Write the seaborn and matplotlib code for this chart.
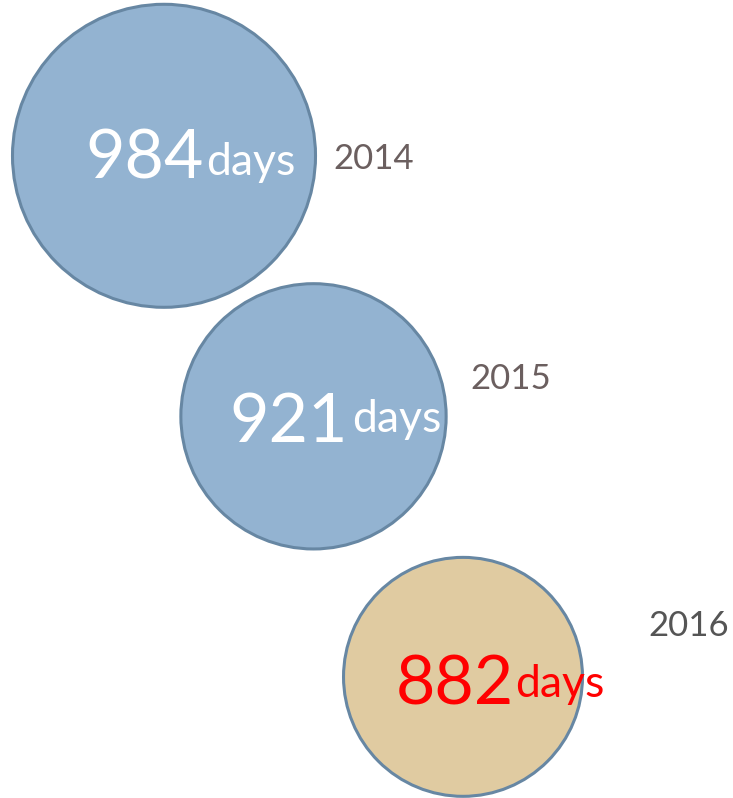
import seaborn as sns
import pandas as pd
import matplotlib.pyplot as plt

# 연도별 소요 일수 (버블 차트)
years = [2014, 2015, 2016]
days = [984, 921, 882]
year_labels = ['2014', '2015', '2016']

# 스타일
fill_colors = {2014: '#93b3d1', 2015: '#93b3d1', 2016: '#e0cba1'}
num_colors = ['white', 'white', '#ff0000']
label_colors = ['#6b5f5f', '#6b5f5f', '#555555']
# 텍스트 오프셋 (pixels, 버블 중심 기준)
num_off = [(40, -23), (34, -26), (51, -28)]
days_off = [(42, -19), (39, -16), (52, -20)]
year_off = [(169, -13), (157, 27), (185, 41)]


def main():
    df = pd.DataFrame({'year': years, 'days': days})

    sns.set_theme(style='white')
    plt.rcParams['font.family'] = ['Lato', 'DejaVu Sans']

    fig = plt.figure(figsize=(7.33, 7.98), dpi=100)
    ax = fig.add_axes([0, 0, 1, 1])

    sns.scatterplot(data=df, x='year', y='year', size='days', hue='year',
                    palette=fill_colors, sizes=(29600, 47600),
                    size_norm=(min(days), max(days)),
                    edgecolor='#6787a3', linewidth=2.2, alpha=1,
                    legend=False, ax=ax, clip_on=False)

    ax.set_xlim(2012.903, 2017.806)
    ax.set_ylim(2016.465, 2013.402)
    ax.set_axis_off()

    for i, (yr, d) in enumerate(zip(years, days)):
        ax.annotate(str(d), (yr, yr), xytext=num_off[i], textcoords='offset pixels',
                    ha='right', va='baseline', fontsize=49, color=num_colors[i])
        ax.annotate('days', (yr, yr), xytext=days_off[i], textcoords='offset pixels',
                    ha='left', va='baseline', fontsize=32, color=num_colors[i])
        ax.annotate(year_labels[i], (yr, yr), xytext=year_off[i], textcoords='offset pixels',
                    ha='left', va='baseline', fontsize=25, color=label_colors[i])

    fig.savefig('out.png', dpi=100)
    plt.close(fig)


if __name__ == '__main__':
    main()
